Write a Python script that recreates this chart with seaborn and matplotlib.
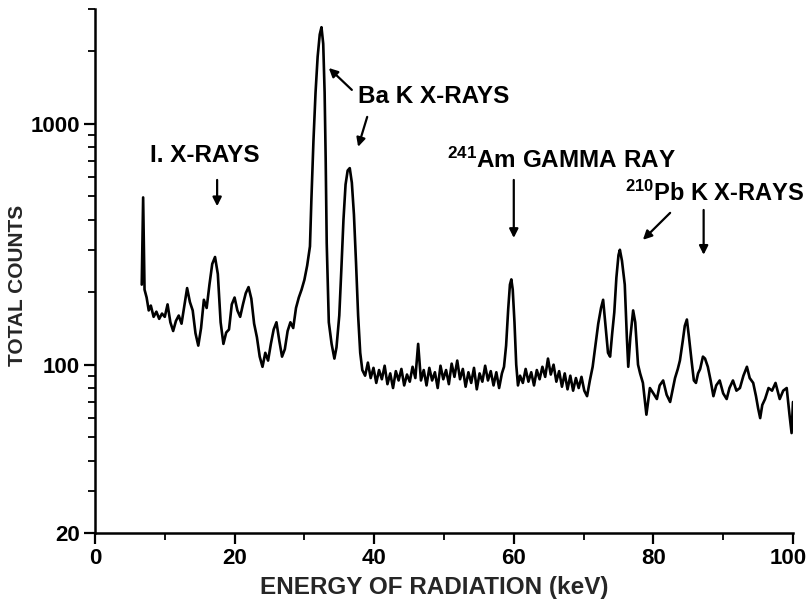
import numpy as np
import pandas as pd
import matplotlib
matplotlib.use("Agg")
import matplotlib.pyplot as plt
import matplotlib.transforms as mtransforms
import seaborn as sns
from matplotlib.ticker import FixedLocator, MultipleLocator, LogLocator, NullFormatter

# ---------------- data ----------------
# low-energy region incl. the I X-ray bump
energy_low = [6.7, 6.9, 7.1, 7.4, 7.7, 8.0, 8.4, 8.8, 9.2, 9.6, 10.0, 10.4, 10.8, 11.2,
              11.6, 12.0, 12.4, 12.8, 13.2, 13.6, 14.0, 14.4, 14.8, 15.2, 15.6, 16.0,
              16.4, 16.8, 17.2, 17.6, 18.0, 18.4, 18.8, 19.2, 19.6, 20.0, 20.4, 20.8,
              21.2, 21.6, 22.0, 22.4, 22.8, 23.2, 23.6, 24.0, 24.4, 24.8, 25.2, 25.6,
              26.0, 26.4, 26.8, 27.2, 27.6, 28.0, 28.4, 28.8, 29.2, 29.6, 30.0, 30.4, 30.8]
counts_low = [215, 495, 205, 190, 168, 176, 158, 166, 155, 163, 158, 178, 150, 138,
              152, 160, 148, 175, 208, 182, 168, 135, 120, 142, 186, 172,
              215, 262, 280, 238, 150, 122, 136, 140, 178, 190, 168, 158,
              178, 198, 210, 188, 148, 130, 108, 98, 112, 104, 122, 140,
              150, 126, 108, 116, 138, 150, 142, 172, 190, 205, 225, 258, 310]

# Ba K X-ray peaks
energy_ba = [31.0, 31.3, 31.6, 31.9, 32.2, 32.45, 32.7, 32.9, 33.05, 33.2, 33.5, 33.9,
             34.3, 34.6, 35.0, 35.3, 35.6, 35.9, 36.2, 36.5, 36.8, 37.1, 37.4, 37.7,
             38.0, 38.3]
counts_ba = [480, 850, 1350, 1900, 2350, 2520, 2150, 1350, 720, 320, 150, 122,
             106, 118, 160, 250, 400, 560, 640, 655, 570, 420, 265, 160,
             112, 95]

# flat continuum between Ba and Am
energy_mid = [38.7, 39.1, 39.5, 39.9, 40.3, 40.7, 41.1, 41.5, 41.9, 42.3, 42.7, 43.1,
              43.5, 43.9, 44.3, 44.7, 45.1, 45.5, 45.9, 46.3, 46.7, 47.1, 47.5, 47.9,
              48.3, 48.7, 49.1, 49.5, 49.9, 50.3, 50.7, 51.1, 51.5, 51.9, 52.3, 52.7,
              53.1, 53.5, 53.9, 54.3, 54.7, 55.1, 55.5, 55.9, 56.3, 56.7, 57.1, 57.5,
              57.9, 58.3, 58.6]
counts_mid = [90, 102, 88, 97, 84, 95, 87, 99, 83, 92, 80, 94,
              86, 96, 82, 91, 85, 98, 88, 122, 86, 95, 82, 97,
              86, 93, 80, 99, 87, 95, 83, 101, 89, 104, 87, 96,
              81, 93, 84, 97, 79, 92, 85, 99, 86, 94, 82, 93,
              80, 92, 98]

# 241Am gamma-ray line
energy_am = [58.9, 59.2, 59.45, 59.65, 59.85, 60.1, 60.35, 60.6, 60.9]
counts_am = [120, 170, 215, 226, 205, 150, 100, 82, 90]

# high-energy region incl. Pb K X-rays
energy_high = [61.3, 61.7, 62.1, 62.5, 62.9, 63.3, 63.7, 64.1, 64.5, 64.9, 65.3, 65.7,
               66.1, 66.5, 66.9, 67.3, 67.7, 68.1, 68.5, 68.9, 69.3, 69.7, 70.1, 70.5,
               70.9, 71.3, 71.7, 72.1, 72.5, 72.8, 73.1, 73.5, 73.8, 74.1, 74.4, 74.7,
               75.0, 75.2, 75.5, 75.9, 76.2, 76.4, 76.7, 77.1, 77.4, 77.8, 78.1, 78.5,
               79.0, 79.5, 80.0, 80.5, 80.9, 81.4, 81.9, 82.4, 82.8, 83.1, 83.5, 83.8,
               84.2, 84.5, 84.8, 85.1, 85.5, 85.8, 86.1, 86.4, 86.7, 87.1, 87.4, 87.8,
               88.2, 88.6, 89.0, 89.5, 90.0, 90.5, 90.9, 91.4, 91.9, 92.4, 92.9, 93.4,
               93.8, 94.3, 94.7, 95.0, 95.3, 95.6, 96.0, 96.5, 97.0, 97.5, 98.1, 98.6,
               99.1, 99.5, 99.8, 100.0]
counts_high = [84, 96, 85, 93, 82, 95, 87, 98, 89, 106, 91, 100,
               85, 94, 81, 92, 79, 90, 78, 88, 80, 89, 78, 74,
               86, 98, 120, 148, 172, 186, 150, 112, 108, 135, 165, 230,
               285, 300, 270, 215, 130, 98, 130, 168, 150, 100, 92, 84,
               62, 80, 76, 72, 82, 86, 75, 70, 80, 88, 96, 104,
               125, 145, 154, 130, 102, 86, 84, 92, 96, 108, 106, 98,
               86, 74, 82, 86, 76, 72, 80, 86, 78, 80, 90, 98,
               88, 84, 74, 66, 60, 68, 72, 80, 78, 84, 72, 78,
               80, 62, 52, 70]

x_ticks = [0, 20, 40, 60, 80, 100]
x_tick_labels = ["0", "20", "40", "60", "80", "100"]
y_ticks = [20, 100, 1000]
y_tick_labels = ["20", "100", "1000"]

# ---------------- styling ----------------
sns.set_style("ticks")
plt.rcParams["font.family"] = ["Liberation Sans", "DejaVu Sans"]
plt.rcParams["font.weight"] = "bold"
plt.rcParams["mathtext.fontset"] = "custom"
plt.rcParams["mathtext.rm"] = "Liberation Sans:bold"
plt.rcParams["mathtext.it"] = "Liberation Sans:bold"
plt.rcParams["mathtext.bf"] = "Liberation Sans:bold"

df = pd.DataFrame({
    "energy": energy_low + energy_ba + energy_mid + energy_am + energy_high,
    "counts": counts_low + counts_ba + counts_mid + counts_am + counts_high,
})

fig = plt.figure(figsize=(8.09, 6.03), dpi=100)
ax = fig.add_axes([0.1174, 0.1161, 0.8628, 0.869])

sns.lineplot(data=df, x="energy", y="counts", ax=ax, color="black",
             linewidth=1.9, estimator=None, sort=False)

ax.set_yscale("log")
ax.set_xlim(0, 100)
ax.set_ylim(20, 3000)

ax.xaxis.set_major_locator(FixedLocator(x_ticks))
ax.set_xticklabels(x_tick_labels)
ax.xaxis.set_minor_locator(MultipleLocator(10))
ax.yaxis.set_major_locator(FixedLocator(y_ticks))
ax.set_yticklabels(y_tick_labels)
ax.yaxis.set_minor_locator(LogLocator(base=10, subs=np.arange(2, 10)))
ax.yaxis.set_minor_formatter(NullFormatter())

ax.tick_params(axis="both", which="major", direction="out", length=8, width=1.6,
               labelsize=16, pad=3, color="black", labelcolor="black")
ax.tick_params(axis="both", which="minor", direction="out", length=5, width=1.3,
               color="black")
for lab in ax.get_xticklabels() + ax.get_yticklabels():
    lab.set_fontweight("bold")
# keep the last x tick label inside the picture
last = ax.get_xticklabels()[-1]
last.set_transform(last.get_transform() +
                   mtransforms.ScaledTranslation(-5 / 100, 0, fig.dpi_scale_trans))

for side in ("top", "right"):
    ax.spines[side].set_visible(False)
for side in ("left", "bottom"):
    ax.spines[side].set_linewidth(1.8)
    ax.spines[side].set_color("black")

ax.set_xlabel("ENERGY OF RADIATION (keV)", fontsize=17.5, fontweight="bold")
ax.set_ylabel("TOTAL COUNTS", fontsize=15, fontweight="bold")
ax.xaxis.set_label_coords(0.486, -0.082)
ax.yaxis.set_label_coords(-0.097, 0.473)

# ---------------- annotations ----------------
arrow = dict(arrowstyle="-|>", color="black", lw=1.6, mutation_scale=13,
             shrinkA=0, shrinkB=0)
txt = dict(fontsize=17.5, fontweight="bold", color="black")

ax.text(15.8, 736, "I. X-RAYS", ha="center", va="center", **txt)
ax.annotate("", xy=(17.5, 455), xytext=(17.5, 585), arrowprops=arrow)

ax.text(37.7, 1294, "Ba K X-RAYS", ha="left", va="center", **txt)
ax.annotate("", xy=(33.5, 1706), xytext=(36.8, 1384), arrowprops=arrow)
ax.annotate("", xy=(37.7, 803), xytext=(39.0, 1069), arrowprops=arrow)

ax.text(50.4, 709, r"$^{241}$Am GAMMA RAY", ha="left", va="center", **txt)
ax.annotate("", xy=(60.0, 336), xytext=(60.0, 585), arrowprops=arrow)

ax.text(75.9, 517, r"$^{210}$Pb K X-RAYS", ha="left", va="center",
        fontsize=17, fontweight="bold", color="black")
ax.annotate("", xy=(78.5, 330), xytext=(82.4, 427), arrowprops=arrow)
ax.annotate("", xy=(87.2, 286), xytext=(87.2, 439), arrowprops=arrow)

fig.savefig("out.png", dpi=100)
